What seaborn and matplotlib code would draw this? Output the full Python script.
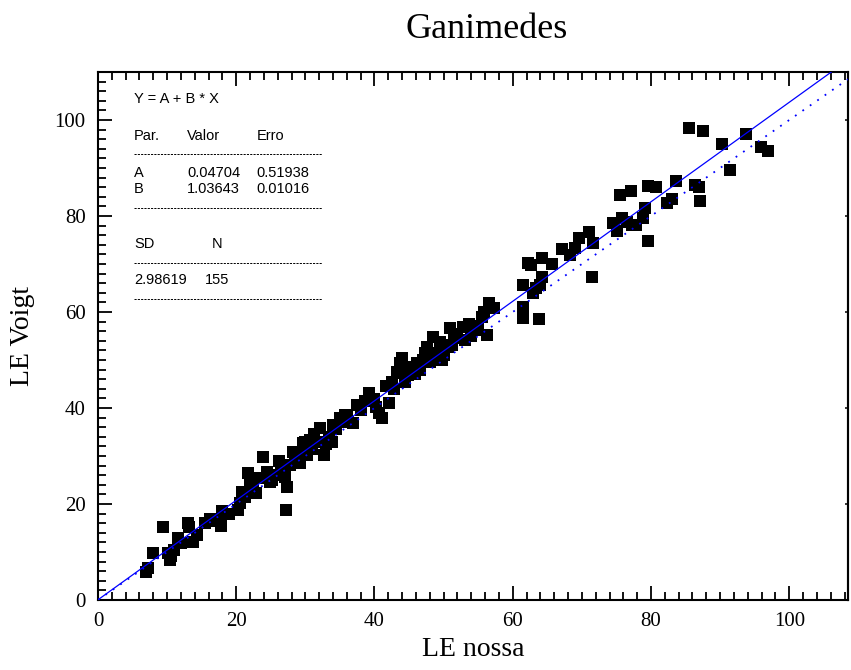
import numpy as np
import pandas as pd
import matplotlib
matplotlib.use("Agg")
import matplotlib.pyplot as plt
from matplotlib.ticker import MultipleLocator, NullLocator
import seaborn as sns

# LE values: ours (x) vs. Voigt (y)
le_nossa = [
    7.0, 7.2, 7.95, 9.4, 10.1, 10.4, 10.6, 11.6, 12.0, 13.0, 13.2, 13.7, 14.3, 15.5, 16.2, 17.2,
    17.8, 17.9, 20.2, 20.5, 20.8, 21.3, 21.7, 22.4, 22.8, 23.5, 23.9, 24.4, 24.9, 25.6, 26.2, 26.5,
    27.0, 27.3, 27.2, 27.8, 28.2, 28.9, 29.2, 29.6, 29.9, 30.2, 30.7, 31.3, 31.8, 32.1, 32.7, 33.0,
    33.4, 34.0, 34.5, 35.0, 35.7, 36.2, 36.9, 37.5, 38.0, 39.2, 40.2, 40.6, 41.1, 41.6, 42.1, 42.8,
    43.2, 43.7, 43.7, 44.0, 44.4, 44.9, 45.3, 46.1, 46.6, 47.0, 47.6, 48.0, 48.4, 49.0, 49.5, 50.0,
    50.6, 50.9, 51.5, 52.0, 52.8, 53.1, 53.7, 54.5, 55.0, 55.5, 56.3, 56.5, 57.3, 61.5, 61.5, 61.5,
    62.2, 62.6, 62.9, 63.3, 63.8, 63.9, 64.2, 64.2, 65.7, 67.1, 68.3, 69.0, 69.6, 71.1, 71.4, 71.6,
    74.5, 75.1, 75.5, 75.8, 77.1, 77.2, 77.9, 78.8, 79.1, 79.5, 79.5, 80.7, 82.3, 83.0, 83.6, 85.5,
    86.3, 86.9, 87.1, 87.5, 90.2, 91.5, 93.7, 95.9, 96.9,
    11.0, 19.0, 22.0, 25.2, 28.5, 31.0, 33.8, 36.0, 38.6, 40.0, 42.5, 45.8, 47.3, 49.8, 51.2, 54.0,
    55.8, 76.5,
]
le_voigt = [
    5.9, 6.6, 9.8, 15.2, 9.8, 8.3, 9.2, 12.9, 11.8, 16.0, 15.2, 12.1, 13.5, 16.0, 16.9, 16.4,
    15.4, 18.5, 18.8, 20.3, 22.5, 21.4, 26.5, 23.5, 22.2, 25.5, 29.8, 26.7, 24.6, 26.0, 29.0, 27.0,
    25.6, 23.5, 18.8, 28.1, 30.8, 30.8, 28.5, 32.7, 32.9, 30.2, 33.3, 34.5, 33.0, 35.8, 30.2, 32.5,
    34.0, 36.5, 35.6, 38.0, 38.5, 37.0, 36.9, 40.6, 39.5, 43.1, 40.2, 39.0, 37.9, 44.6, 41.0, 44.0,
    47.5, 47.3, 49.4, 50.5, 45.4, 46.8, 48.5, 49.4, 48.0, 50.0, 52.7, 49.5, 54.8, 51.5, 53.8, 51.0,
    52.7, 56.7, 54.5, 55.5, 56.9, 54.2, 57.5, 56.3, 57.0, 59.0, 55.2, 61.9, 60.8, 65.6, 61.0, 58.8,
    70.2, 69.8, 64.0, 65.0, 58.5, 65.6, 71.3, 67.3, 70.0, 73.1, 71.9, 73.3, 75.4, 76.7, 67.3, 74.4,
    78.5, 76.9, 84.4, 79.6, 85.2, 78.1, 78.1, 79.6, 81.7, 74.8, 86.3, 86.0, 82.7, 83.5, 87.3, 98.3,
    86.5, 86.0, 83.1, 97.7, 95.0, 89.6, 97.1, 94.4, 93.5,
    10.5, 18.0, 24.0, 25.0, 29.5, 31.5, 33.0, 38.3, 41.5, 41.8, 45.5, 47.0, 51.5, 50.0, 53.2, 55.0,
    60.0, 78.8,
]

# Linear fit parameters (Y = A + B * X)
fit_a, fit_a_err = 0.04704, 0.51938
fit_b, fit_b_err = 1.03643, 0.01016
fit_sd = 2.98619
n_points = 155

x_max, y_max = 108.5, 110
x_ticks = [0, 20, 40, 60, 80, 100]
y_ticks = [0, 20, 40, 60, 80, 100]

sns.set_style("ticks")
plt.rcParams["font.family"] = ["Liberation Serif", "DejaVu Serif"]
plt.rcParams["text.color"] = "black"
plt.rcParams["axes.labelcolor"] = "black"

df = pd.DataFrame({"LE nossa": le_nossa, "LE Voigt": le_voigt})
line_x = np.array([0.0, x_max])
lines = pd.DataFrame({
    "x": line_x,
    "fit": fit_a + fit_b * line_x,
    "ident": line_x,
})

fig = plt.figure(figsize=(8.51, 6.70), dpi=100)
ax = fig.add_axes([98 / 851, 70 / 670, 750 / 851, 528 / 670])

sns.lineplot(data=lines, x="x", y="fit", ax=ax, color="#0000ff", lw=0.9, zorder=3)
sns.lineplot(data=lines, x="x", y="ident", ax=ax, color="#0000ff", lw=1.3,
             linestyle=(0, (1.0, 4.0)), zorder=3)
sns.scatterplot(data=df, x="LE nossa", y="LE Voigt", ax=ax, marker="s", s=80,
                color="black", linewidth=0, zorder=2)

ax.set_xlim(0, x_max)
ax.set_ylim(0, y_max)
ax.set_xticks(x_ticks)
ax.set_yticks(y_ticks)
ax.xaxis.set_minor_locator(MultipleLocator(2))
ax.yaxis.set_minor_locator(MultipleLocator(2))
for s in ax.spines.values():
    s.set_linewidth(1.5)
    s.set_color("black")

ax.tick_params(axis="x", which="both", direction="in", top=True, bottom=True,
               labelsize=15, pad=9, width=1.3, colors="black")
ax.tick_params(axis="y", which="both", direction="in", left=True, right=False,
               labelsize=15, pad=9, width=1.3, colors="black")
ax.tick_params(which="major", length=10)
ax.tick_params(which="minor", length=5.5)

# right-hand axis: short major ticks only
sec = ax.secondary_yaxis("right")
sec.set_yticks(y_ticks)
sec.yaxis.set_minor_locator(NullLocator())
sec.tick_params(which="both", direction="in", length=2.5, width=1.3, labelright=False)
sec.spines["right"].set_linewidth(1.5)

ax.set_xlabel("LE nossa", fontsize=20, labelpad=4)
ax.set_ylabel("LE Voigt", fontsize=20, labelpad=14)
fig.text(487 / 851, 1 - 29 / 670, "Ganimedes", fontsize=26, ha="center", va="center",
         color="black")

# fit summary table
sans = ["Liberation Sans", "DejaVu Sans"]
fs = 10.5
c1, c2, c3 = 5.2, 12.9, 22.95
rows = [
    (104.3, [(c1, "Y = A + B * X")]),
    (96.7, [(c1, "Par."), (c2, "Valor"), (c3, "Erro")]),
    (89.0, [(c1, "A"), (c2, f"{fit_a:.5f}"), (c3, f"{fit_a_err:.5f}")]),
    (85.6, [(c1, "B"), (c2, f"{fit_b:.5f}"), (c3, f"{fit_b_err:.5f}")]),
    (74.1, [(c1, "SD"), (16.4, "N")]),
    (66.7, [(c1, f"{fit_sd:.5f}"), (15.5, f"{n_points}")]),
]
for y, cells in rows:
    for x, t in cells:
        ax.text(x, y, t, family=sans, fontsize=fs, ha="left", va="center", color="black")
for y in [92.9, 81.7, 70.3, 62.7]:
    ax.plot([c1, 32.4], [y, y], color="black", lw=0.7, linestyle=(0, (2.2, 1.2)))

fig.savefig("out.png", dpi=100, facecolor="white")
